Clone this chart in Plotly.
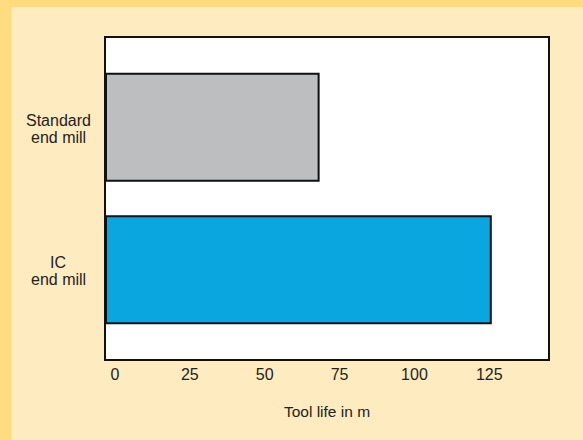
import plotly.graph_objects as go

# Tool life comparison (m)
categories = ["IC<br>end mill", "Standard<br>end mill"]
tool_life = [125.5, 68]
bar_colors = ["#0AA6E0", "#BDBEC0"]
tick_values = [0, 25, 50, 75, 100, 125]
tick_labels = ["0", "25", "50", "75", "100", "125"]
x_title = "Tool life in m"

X_LO, X_HI = -3, 144.6
FONT = "Liberation Sans, Arial, sans-serif"
TEXT = "#222222"
W, H = 583, 440
ML, MR, MT, MB = 106, 35, 38, 81

fig = go.Figure(
    go.Bar(
        y=categories,
        x=[v - X_LO for v in tool_life],
        base=X_LO,
        orientation="h",
        width=0.75,
        marker=dict(color=bar_colors, line=dict(color="#111111", width=2)),
        hoverinfo="skip",
    )
)

# Category labels, one annotation per line so they stay centred
annotations = []
for cat in categories:
    lines = cat.split("<br>")
    shifts = [7, -10]
    for line, ys in zip(lines, shifts):
        annotations.append(
            dict(
                x=0, xref="paper", xanchor="center", xshift=-48,
                y=cat, yref="y", yanchor="middle", yshift=ys,
                text=line, showarrow=False,
                font=dict(family=FONT, size=16, color=TEXT),
            )
        )

# Frame strips along top and left edge
shapes = [
    dict(type="rect", xref="paper", yref="paper", xsizemode="pixel", ysizemode="pixel",
         xanchor=0, yanchor=1, x0=-ML, x1=W - ML, y0=MT, y1=MT - 7,
         fillcolor="#FFDB7B", line=dict(width=0), layer="below"),
    dict(type="rect", xref="paper", yref="paper", xsizemode="pixel", ysizemode="pixel",
         xanchor=0, yanchor=1, x0=-ML, x1=-ML + 11.5, y0=MT, y1=MT - H,
         fillcolor="#FFDC80", line=dict(width=0), layer="below"),
]

fig.update_layout(
    width=W, height=H,
    margin=dict(l=ML, r=MR, t=MT, b=MB, pad=0),
    paper_bgcolor="#FFEBC0",
    plot_bgcolor="#FFFFFF",
    showlegend=False,
    annotations=annotations,
    shapes=shapes,
    font=dict(family=FONT, size=16, color=TEXT),
    xaxis=dict(
        range=[X_LO, X_HI], tickvals=tick_values, ticktext=tick_labels,
        showgrid=False, zeroline=False, ticks="",
        showline=True, mirror=True, linecolor="#111111", linewidth=2,
        tickfont=dict(family=FONT, size=16, color=TEXT),
        title=dict(text=x_title, font=dict(family=FONT, size=15.5, color=TEXT), standoff=24),
        fixedrange=True,
    ),
    yaxis=dict(
        type="category", categoryorder="array", categoryarray=categories,
        range=[-0.625, 1.625], showticklabels=False, showgrid=False, zeroline=False,
        ticks="", showline=True, mirror=True, linecolor="#111111", linewidth=2,
        fixedrange=True,
    ),
)

fig.write_html("out.html", config={"displayModeBar": False})
